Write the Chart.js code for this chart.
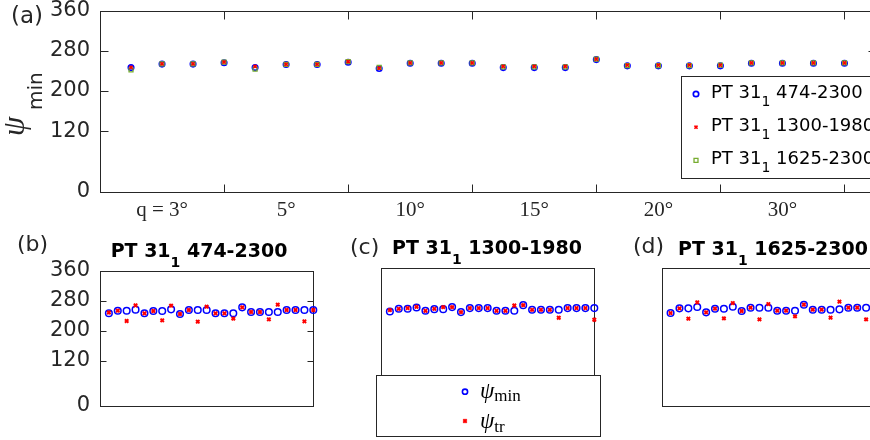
<!DOCTYPE html>
<html>
<head>
<meta charset="utf-8">
<script src="https://cdn.jsdelivr.net/npm/chart.js@4.4.0/dist/chart.umd.min.js"></script>
<style>
  body { margin: 0; background: #fff; }
  #fig { position: relative; width: 870px; height: 440px; overflow: hidden; background: #fff; }
  #fig canvas { position: absolute; }
</style>
</head>
<body>
<div id="fig">
  <canvas id="pa" width="890" height="240" style="left:0px;top:0px;width:890px;height:240px"></canvas>
  <canvas id="pb" width="330" height="200" style="left:0px;top:228px;width:330px;height:200px"></canvas>
  <canvas id="pc" width="300" height="212" style="left:330px;top:228px;width:300px;height:212px"></canvas>
  <canvas id="pd" width="265" height="200" style="left:625px;top:228px;width:265px;height:200px"></canvas>
</div>
<script>
// point index along the q axis
const idx = [1,2,3,4,5,6,7,8,9,10,11,12,13,14,15,16,17,18,19,20,21,22,23,24];
const qLabels = ['q = 3°', '5°', '10°', '15°', '20°', '30°'];
const qLabelPos = [2, 6, 10, 14, 18, 22];
const qTickPos = [4, 8, 12, 16, 20, 24];
const yTicks = [0, 120, 200, 280, 360];
const names = ['474-2300', '1300-1980', '1625-2300'];

// psi_min and psi_tr for each window
const min474 = [246.4,253.4,253.4,256.1,246.4,252.5,252.5,257.0,244.5,255.2,255.2,255.2,246.4,246.4,246.4,262.3,249.9,249.9,249.9,249.9,255.2,255.2,255.2,255.2];
const tr474  = [248.5,253.4,225.8,267.7,246.4,252.5,227.6,266.8,244.5,255.2,224.1,264.1,246.4,246.4,232.2,262.3,249.9,249.9,230.4,269.5,255.2,255.2,225.0,255.2];
const min1300 = [247.0,253.9,253.9,257.4,248.7,253.0,253.0,258.3,245.2,255.7,255.7,255.7,248.7,248.7,248.7,263.5,251.3,251.3,251.3,251.3,255.7,255.7,255.7,255.7];
const tr1300  = [250.4,253.9,255.7,259.1,248.7,253.9,258.3,258.3,245.2,255.7,255.7,255.7,248.7,248.7,262.6,263.5,251.3,251.3,251.3,230.4,255.7,255.7,255.7,225.2];
const min1625 = [241.7,253.9,253.9,257.4,243.5,253.0,253.0,258.3,247.0,255.7,255.7,255.7,247.8,247.8,247.8,263.5,250.4,250.4,250.4,251.3,255.7,255.7,255.7,255.7];
const tr1625  = [241.7,253.9,227.0,269.6,243.5,253.0,227.8,267.8,247.0,255.7,225.2,265.2,247.8,247.8,233.0,263.5,250.4,250.4,229.6,271.3,255.7,255.7,225.2,255.7];

const BLUE = '#0000ff', RED = '#ff0000', GREEN = '#77ac30', INK = '#262626';
const SANS = '"DejaVu Sans"', SERIF = '"Liberation Serif"';

const pts = arr => idx.map((x, i) => ({ x: x, y: arr[i] }));

// draw text made of runs [text, font, dy]
function drawRuns(ctx, x, y, runs, center) {
  let w = 0;
  runs.forEach(r => { ctx.font = r[1]; w += ctx.measureText(r[0]).width; });
  let cx = center ? x - w / 2 : x;
  runs.forEach(r => {
    ctx.font = r[1];
    ctx.fillText(r[0], cx, y + (r[2] || 0));
    cx += ctx.measureText(r[0]).width;
  });
}

function marker(ctx, style, x, y, r, color, lw) {
  ctx.save();
  ctx.strokeStyle = color; ctx.fillStyle = color; ctx.lineWidth = lw;
  ctx.beginPath();
  if (style === 'circle') ctx.arc(x, y, r, 0, Math.PI * 2);
  else if (style === 'rect') ctx.rect(x - r * 0.707, y - r * 0.707, r * 1.414, r * 1.414);
  else { const d = r * 0.707; ctx.moveTo(x - d, y - d); ctx.lineTo(x + d, y + d); ctx.moveTo(x + d, y - d); ctx.lineTo(x - d, y + d); }
  ctx.stroke();
  ctx.restore();
}

// box round the axes with inward ticks
const frame = {
  id: 'frame',
  beforeDatasetsDraw(chart, args, o) {
    const { ctx, chartArea: a, scales } = chart;
    const L = Math.round(a.left) + 0.5, R = Math.round(a.right) + 0.5;
    const T = Math.round(a.top) + 0.5, B = Math.round(a.bottom) + 0.5;
    ctx.save();
    ctx.strokeStyle = INK; ctx.lineWidth = 1;
    ctx.strokeRect(L, T, R - L, B - T);
    ctx.beginPath();
    (o.y || []).forEach(v => {
      const y = Math.round(scales.y.getPixelForValue(v)) + 0.5;
      ctx.moveTo(L, y); ctx.lineTo(L + o.len, y);
      ctx.moveTo(R, y); ctx.lineTo(R - o.len, y);
    });
    (o.x || []).forEach(v => {
      const x = Math.round(scales.x.getPixelForValue(v)) + 0.5;
      ctx.moveTo(x, B); ctx.lineTo(x, B - o.len);
      ctx.moveTo(x, T); ctx.lineTo(x, T + o.len);
    });
    ctx.stroke();
    ctx.restore();
  }
};

const textLayer = {
  id: 'textLayer',
  afterDraw(chart, args, o) { if (o.draw) o.draw(chart.ctx, chart); }
};

function yAxis(show, width) {
  return {
    type: 'linear', min: 0, max: 360, display: show,
    afterBuildTicks: s => { s.ticks = yTicks.map(v => ({ value: v })); },
    afterFit: s => {
      s.paddingTop = 0; s.paddingBottom = 0;
      if (show) s.width = width;
    },
    grid: { display: false, drawTicks: false },
    border: { display: false },
    ticks: { padding: 10, color: INK, font: { family: 'DejaVu Sans', size: 21 } }
  };
}

function titleDraw(label, lx, ly, name, tx, ty) {
  return ctx => {
    ctx.save();
    ctx.textBaseline = 'alphabetic';
    ctx.fillStyle = INK;
    ctx.font = '22px ' + SANS;
    ctx.fillText(label, lx, ly);
    ctx.fillStyle = '#000';
    drawRuns(ctx, tx, ty, [['PT 31', 'bold 19px ' + SANS], ['1', 'bold 14px ' + SANS, 10], [' ' + name, 'bold 19px ' + SANS]], true);
    ctx.restore();
  };
}

// ---------- panel (a) ----------
new Chart(document.getElementById('pa'), {
  type: 'scatter',
  data: {
    datasets: [
      { label: names[0], data: pts(min474), pointStyle: 'circle', pointRadius: 2.7, borderWidth: 1.7, borderColor: BLUE, backgroundColor: 'rgba(0,0,0,0)', order: 2 },
      { label: names[1], data: pts(min1300), pointStyle: 'crossRot', pointRadius: 2.2, borderWidth: 1.6, borderColor: RED, backgroundColor: RED, order: 0 },
      { label: names[2], data: pts(min1625), pointStyle: 'rect', pointRadius: 2.8, borderWidth: 1.3, borderColor: GREEN, backgroundColor: 'rgba(0,0,0,0)', order: 1 }
    ]
  },
  options: {
    responsive: false, animation: false, events: [],
    layout: { padding: { left: 0, top: 10.5, right: 14.5, bottom: 0 } },
    scales: {
      x: {
        type: 'linear', min: 0, max: 25,
        afterBuildTicks: s => { s.ticks = qLabelPos.concat(qTickPos).sort((a, b) => a - b).map(v => ({ value: v })); },
        afterFit: s => { s.height = 48.5; s.paddingLeft = 0; s.paddingRight = 0; },
        grid: { display: false, drawTicks: false },
        border: { display: false },
        ticks: {
          autoSkip: false, maxRotation: 0, padding: 6, color: INK,
          font: { family: 'Liberation Serif', size: 21 },
          callback: v => { const i = qLabelPos.indexOf(v); return i >= 0 ? qLabels[i] : ''; }
        }
      },
      y: yAxis(true, 100)
    },
    plugins: {
      legend: { display: false }, tooltip: { enabled: false },
      frame: { y: yTicks, x: qTickPos, len: 8 },
      textLayer: {
        draw: (ctx, chart) => {
          ctx.save();
          ctx.fillStyle = INK;
          ctx.textBaseline = 'alphabetic';
          ctx.font = '23px ' + SANS;
          ctx.fillText('(a)', 11, 23);
          // y axis title
          ctx.translate(24, 136);
          ctx.rotate(-Math.PI / 2);
          ctx.font = 'italic 31px ' + SERIF;
          ctx.fillText('ψ', 0, 0);
          ctx.font = '20px ' + SANS;
          ctx.fillText('min', 26, 18);
          ctx.restore();
          // legend
          ctx.save();
          ctx.fillStyle = '#fff'; ctx.strokeStyle = INK; ctx.lineWidth = 1;
          ctx.fillRect(681.5, 76.5, 240, 102);
          ctx.strokeRect(681.5, 76.5, 240, 102);
          chart.data.datasets.forEach((ds, i) => {
            const y = 94 + i * 33.2;
            marker(ctx, ds.pointStyle, 696, y, ds.pointRadius, ds.borderColor, ds.borderWidth);
            ctx.fillStyle = '#000';
            drawRuns(ctx, 711, y + 4, [['PT 31', '18px ' + SANS], ['1', '14px ' + SANS, 8], [' ' + ds.label, '18px ' + SANS]], false);
          });
          ctx.restore();
        }
      }
    }
  },
  plugins: [frame, textLayer]
});

// ---------- panels (b) (c) (d) ----------
function subPanel(id, mins, trs, pad, showY, extra) {
  return new Chart(document.getElementById(id), {
    type: 'scatter',
    data: {
      datasets: [
        { label: 'psi_min', data: pts(mins), pointStyle: 'circle', pointRadius: 3.3, borderWidth: 1.5, borderColor: BLUE, backgroundColor: 'rgba(0,0,0,0)', order: 1 },
        { label: 'psi_tr', data: pts(trs), pointStyle: 'crossRot', pointRadius: 2.4, borderWidth: 2, borderColor: RED, backgroundColor: RED, order: 0 }
      ]
    },
    options: {
      responsive: false, animation: false, events: [],
      clip: false,
      layout: { padding: pad },
      scales: {
        x: { type: 'linear', min: 0, max: 24, display: false },
        y: yAxis(showY, 100)
      },
      plugins: {
        legend: { display: false }, tooltip: { enabled: false },
        frame: { y: showY ? yTicks : [], len: 6 },
        textLayer: { draw: extra }
      }
    },
    plugins: [frame, textLayer]
  });
}

subPanel('pb', min474, tr474, { left: 0, top: 42.7, right: 16.7, bottom: 22.3 }, true,
  titleDraw('(b)', 17, 23, names[0], 199, 28.7));

subPanel('pc', min1300, tr1300, { left: 51, top: 40.3, right: 35.7, bottom: 34.3 }, false,
  (ctx, chart) => {
    titleDraw('(c)', 20, 26, names[1], 157, 26.3)(ctx);
    ctx.save();
    ctx.fillStyle = '#fff'; ctx.strokeStyle = INK; ctx.lineWidth = 1;
    ctx.fillRect(46.5, 147.5, 224, 61);
    ctx.strokeRect(46.5, 147.5, 224, 61);
    marker(ctx, 'circle', 135, 163.7, 2.6, BLUE, 1.6);
    marker(ctx, 'crossRot', 135, 193, 2.4, RED, 2);
    ctx.fillStyle = '#000';
    ctx.textBaseline = 'alphabetic';
    drawRuns(ctx, 150, 170, [['ψ', 'italic 23px ' + SERIF], ['min', '17px ' + SERIF, 3]], false);
    drawRuns(ctx, 150, 200, [['ψ', 'italic 23px ' + SERIF], ['tr', '17px ' + SERIF, 3.5]], false);
    ctx.restore();
  });

subPanel('pd', min1625, tr1625, { left: 36.7, top: 39.7, right: 15, bottom: 22.3 }, false,
  titleDraw('(d)', 8, 25, names[2], 148, 27));
</script>
</body>
</html>
